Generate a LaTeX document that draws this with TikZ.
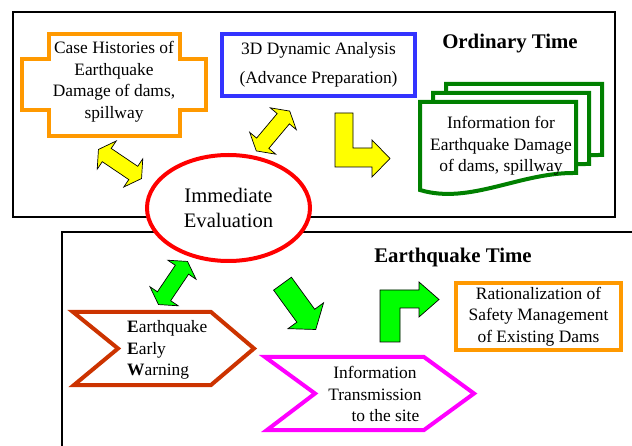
\documentclass[tikz,border=0pt]{standalone}
\usepackage{fontspec}
\setmainfont{Liberation Serif}
\usetikzlibrary{shapes.geometric}
\definecolor{caseorange}{RGB}{255,153,0}
\definecolor{dynblue}{RGB}{51,51,255}
\definecolor{docgreen}{RGB}{0,128,0}
\definecolor{warnbrown}{RGB}{204,51,0}
\definecolor{blockgreen}{RGB}{0,255,0}
\definecolor{blockyellow}{RGB}{255,255,0}
\definecolor{sitemagenta}{RGB}{255,0,255}
\definecolor{evalred}{RGB}{255,0,0}
\tikzset{
    % text styles
    txt/.style = {font=\fontsize{17.4}{21.5}\selectfont, align=center, inner sep=0pt},
    title/.style = {font=\fontsize{20.8}{25}\selectfont\bfseries, inner sep=0pt},
    % frame style
    frame/.style = {draw=black, line width=2.5pt},
    % block arrow styles
    yblock/.style = {fill=blockyellow, draw=black, line width=0.7pt},
    gblock/.style = {fill=blockgreen, draw=black, line width=0.7pt},
    % document sheet style
    sheet/.style = {draw=docgreen, fill=white, line width=4pt}
}
% two-headed block arrow: style, centre, angle
\newcommand{\twoway}[3]{\path[#1, shift={#2}, rotate=#3] (-26,0) -- (-16,17) -- (-16,8) -- (16,8) -- (16,17) -- (26,0) -- (16,-17) -- (16,-8) -- (-16,-8) -- (-16,-17) -- cycle;}
% one document sheet: offset
\newcommand{\docsheet}[1]{\path[sheet, shift={#1}] (420,102) -- (576,102) -- (576,173) .. controls (520,172) and (470,205) .. (420,190) -- cycle;}

\begin{document}
\begin{tikzpicture}[x=1pt, y=-1pt]
        \useasboundingbox (0,0) rectangle (632,446);
        % frames
        \draw[frame] (13,12) rectangle (615,217);
        \begin{scope}
            \clip (0,0) rectangle (632,446);
            \draw[frame] (62,232) rectangle (660,470);
        \end{scope}
        % case histories cross
        \draw[caseorange, line width=4pt] (49,34) -- (180,34) -- (180,59) -- (206,59) -- (206,110) -- (180,110) -- (180,136) -- (49,136) -- (49,110) -- (22,110) -- (22,59) -- (49,59) -- cycle;
        \node[txt] (case) at (114,82) {Case Histories of\\Earthquake\\Damage of dams,\\spillway};
        % dynamic analysis box
        \node[txt, draw=dynblue, line width=4pt, minimum width=193pt, minimum height=62pt] (analysis) at (318.5,65) {3D Dynamic Analysis\\[7.5pt](Advance Preparation)};
        \node[title] (ordinary) at (510,44) {Ordinary Time};
        % stacked documents
        \docsheet{(26,-18)}
        \docsheet{(13,-9)}
        \docsheet{(0,0)}
        \node[txt] (info) at (501,146) {Information for\\Earthquake Damage\\of dams, spillway};
        % bent yellow arrow
        \path[yblock] (335,113) -- (353,113) -- (353,148) -- (372,148) -- (372,140) -- (390,158.5) -- (372,177) -- (372,167) -- (335,167) -- cycle;
        % immediate evaluation
        \node[ellipse, draw=evalred, fill=white, line width=4pt, minimum width=163pt, minimum height=106pt, inner sep=0pt, align=center, font=\fontsize{20.6}{25}\selectfont] (evaluation) at (228.5,208) {Immediate\\Evaluation};
        % two-headed arrows
        \twoway{yblock}{(120,164)}{-34}
        \twoway{yblock}{(273,131)}{50}
        \twoway{gblock}{(173,283)}{56}
        \node[title] (quake) at (453,257) {Earthquake Time};
        % early warning chevron
        \draw[warnbrown, line width=4pt] (73,312) -- (211,312) -- (254,348.5) -- (211,385) -- (74,385) -- (118,348.5) -- cycle;
        \node[txt, align=left, anchor=west] (warning) at (127,350) {\textbf{E}arthquake\\\textbf{E}arly\\\textbf{W}arning};
        % straight green arrow
        \path[gblock, shift={(282.5,283.7)}, rotate=-54] (0,-11) -- (39.6,-11) -- (39.6,-22) -- (56.6,0) -- (39.6,22) -- (39.6,11) -- (0,11) -- cycle;
        % transmission chevron
        \draw[sitemagenta, line width=4pt] (265,357) -- (424,357) -- (474,393.5) -- (424,430) -- (267,430) -- (315,393.5) -- cycle;
        \node[txt] (transmission) at (375,394) {Information\\Transmission\\\hspace{1.2em}to the site};
        % bent green arrow
        \path[gblock] (380,342) -- (380,290) -- (419,290) -- (419,282) -- (439,299.5) -- (419,317) -- (419,308) -- (400,308) -- (400,342) -- cycle;
        % rationalization box
        \node[txt, draw=caseorange, line width=3.5pt, minimum width=165pt, minimum height=67pt] (rational) at (538.5,316.5) {Rationalization of\\Safety Management\\of Existing Dams};
\end{tikzpicture}
\end{document}
